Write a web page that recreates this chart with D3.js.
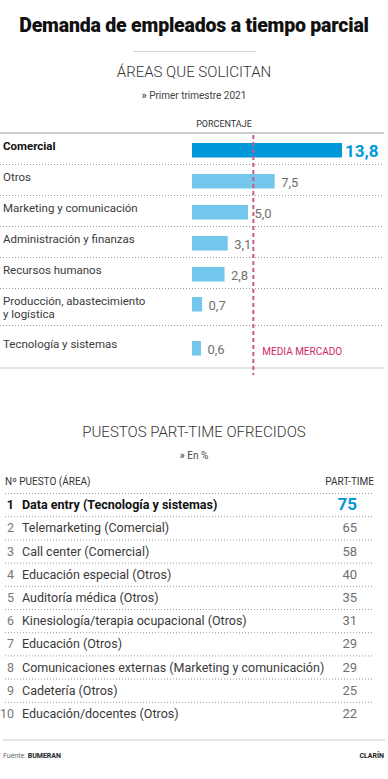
<!DOCTYPE html>
<html>
<head>
    <meta charset="utf-8">
    <title>Demanda de empleados a tiempo parcial</title>
    <script src="https://cdnjs.cloudflare.com/ajax/libs/d3/7.8.5/d3.min.js"></script>
    <style>
        body {
            margin: 0;
            background-color: #fff;
            font-family: Roboto, "Noto Sans", Arial, sans-serif;
        }
        #chart {
            width: 388px;
            height: 779px;
        }
    </style>
</head>
<body>
    <div id="chart"></div>

    <script>
        // Areas que solicitan (porcentaje)
        const areas = ['Comercial', 'Otros', 'Marketing y comunicación', 'Administración y finanzas',
            'Recursos humanos', 'Producción, abastecimiento|y logística', 'Tecnología y sistemas'];
        const areaValues = [13.8, 7.5, 5.0, 3.1, 2.8, 0.7, 0.6];
        const mediaMercado = 5.5;

        // Puestos part-time ofrecidos (en %)
        const puestos = ['Data entry (Tecnología y sistemas)', 'Telemarketing (Comercial)',
            'Call center (Comercial)', 'Educación especial (Otros)', 'Auditoría médica (Otros)',
            'Kinesiología/terapia ocupacional (Otros)', 'Educación (Otros)',
            'Comunicaciones externas (Marketing y comunicación)', 'Cadetería (Otros)',
            'Educación/docentes (Otros)'];
        const partTime = [75, 65, 58, 40, 35, 31, 29, 29, 25, 22];

        const fmt = v => d3.format('.1f')(v).replace('.', ',');

        const W = 388, H = 779;
        const blue = '#0098d9', lightBlue = '#73c6ec', media = '#d3276a';
        const textCol = '#3a3a3a', valCol = '#707070', rule = '#c9c9c9';

        const svg = d3.select('#chart')
            .append('svg')
            .attr('width', W)
            .attr('height', H);

        // Title
        svg.append('text')
            .attr('x', W / 2).attr('y', 32)
            .attr('text-anchor', 'middle')
            .style('font-size', '19.5px').style('font-weight', 900)
            .style('letter-spacing', '-0.2px')
            .attr('fill', '#111')
            .text('Demanda de empleados a tiempo parcial');

        svg.append('line')
            .attr('x1', 133).attr('x2', 256).attr('y1', 51.5).attr('y2', 51.5)
            .attr('stroke', '#d6d6d6').attr('stroke-width', 1);

        function sectionHead(y, title, sub) {
            svg.append('text')
                .attr('x', W / 2).attr('y', y)
                .attr('text-anchor', 'middle')
                .style('font-size', '15px').style('font-weight', 300)
                .attr('fill', '#333')
                .text(title);
            const s = svg.append('text')
                .attr('x', W / 2).attr('y', y + 22)
                .attr('text-anchor', 'middle')
                .style('font-size', '10px')
                .attr('fill', '#444');
            s.append('tspan').style('font-weight', 'bold').text('» ');
            s.append('tspan').text(sub);
        }

        // ---- Section 1: bars ----
        sectionHead(77, 'ÁREAS QUE SOLICITAN', 'Primer trimestre 2021');

        const barX0 = 192;
        const x = d3.scaleLinear()
            .domain([0, d3.max(areaValues)])
            .range([194.6, 342]);

        svg.append('text')
            .attr('x', 224).attr('y', 127)
            .attr('text-anchor', 'middle')
            .style('font-size', '9px')
            .attr('fill', '#333')
            .text('PORCENTAJE');

        const topY = 133;
        svg.append('line')
            .attr('x1', 0).attr('x2', 384).attr('y1', topY).attr('y2', topY)
            .attr('stroke', '#999').attr('stroke-width', 1.2);

        // row layout from number of label lines
        let yCur = topY;
        const rows = areas.map((a, i) => {
            const lines = a.split('|');
            const last = i === areas.length - 1;
            const h = last ? 43 : 31 + (lines.length - 1) * 6;
            const r = { name: a, lines, value: areaValues[i], y: yCur, h, shift: last ? 6 : 0 };
            yCur += h;
            return r;
        });
        const bottomY = yCur;

        const g = svg.append('g');
        rows.forEach((r, i) => {
            if (i > 0) {
                g.append('line')
                    .attr('x1', 0).attr('x2', 384).attr('y1', r.y + 0.5).attr('y2', r.y + 0.5)
                    .attr('stroke', '#9a9a9a').attr('stroke-width', 1)
                    .attr('stroke-dasharray', '1,2');
            }
            const t = g.append('text')
                .attr('x', 3).attr('y', r.y + 17 + r.shift)
                .style('font-size', '11.5px')
                .style('font-weight', i === 0 ? 'bold' : 'normal')
                .attr('fill', i === 0 ? '#111' : textCol);
            r.lines.forEach((l, k) => t.append('tspan').attr('x', 3).attr('dy', k ? 13 : 0).text(l));

            const by = r.y + 10 + r.shift + (r.lines.length > 1 ? -1 : 0);
            g.append('rect')
                .attr('x', barX0).attr('y', by)
                .attr('width', x(r.value) - barX0).attr('height', 14.5)
                .attr('fill', i === 0 ? blue : lightBlue);
            g.append('text')
                .attr('x', x(r.value) + (i === 0 ? 3 : 6.5))
                .attr('y', by + (i === 0 ? 13.5 : 12.5))
                .style('font-size', i === 0 ? '17px' : '13px')
                .style('font-weight', i === 0 ? 'bold' : 'normal')
                .attr('fill', i === 0 ? blue : valCol)
                .text(fmt(r.value));
        });

        svg.append('line')
            .attr('x1', 0).attr('x2', 384).attr('y1', bottomY).attr('y2', bottomY)
            .attr('stroke', rule).attr('stroke-width', 1.2);

        // market average
        svg.append('line')
            .attr('x1', x(mediaMercado)).attr('x2', x(mediaMercado))
            .attr('y1', topY + 2).attr('y2', bottomY + 7)
            .attr('stroke', '#cc5a86').attr('stroke-width', 2)
            .attr('stroke-dasharray', '4,3');
        svg.append('text')
            .attr('x', x(mediaMercado) + 9).attr('y', rows[rows.length - 1].y + 30)
            .style('font-size', '10px')
            .attr('fill', media)
            .text('MEDIA MERCADO');

        // ---- Section 2: table ----
        sectionHead(437, 'PUESTOS PART-TIME OFRECIDOS', 'En %');

        const headY = 485;
        svg.append('text')
            .attr('x', 5).attr('y', headY)
            .style('font-size', '10px').attr('fill', '#333')
            .text('Nº PUESTO (ÁREA)');
        svg.append('text')
            .attr('x', 374).attr('y', headY)
            .attr('text-anchor', 'end')
            .style('font-size', '10px').attr('fill', '#333')
            .text('PART-TIME');

        const yRow = d3.scaleBand()
            .domain(d3.range(puestos.length))
            .range([493, 493 + 23.2 * puestos.length]);

        const tg = svg.append('g');
        puestos.forEach((p, i) => {
            const y0 = yRow(i);
            tg.append('line')
                .attr('x1', 5).attr('x2', 374).attr('y1', y0 + 0.5).attr('y2', y0 + 0.5)
                .attr('stroke', '#9a9a9a').attr('stroke-width', 1)
                .attr('stroke-dasharray', '1,2');
            const cy = y0 + yRow.bandwidth() / 2 + 4.5;
            const bold = i === 0;
            tg.append('text')
                .attr('x', 14).attr('y', cy)
                .attr('text-anchor', 'end')
                .style('font-size', '12.5px')
                .style('font-weight', bold ? 'bold' : 'normal')
                .attr('fill', bold ? '#111' : '#777')
                .text(i + 1);
            tg.append('text')
                .attr('x', 22).attr('y', cy)
                .style('font-size', '12.5px')
                .style('font-weight', bold ? 'bold' : 'normal')
                .attr('fill', bold ? '#111' : textCol)
                .text(p);
            tg.append('text')
                .attr('x', 357).attr('y', cy + (bold ? 1 : 0))
                .attr('text-anchor', 'end')
                .style('font-size', bold ? '17px' : '13px')
                .style('font-weight', bold ? 'bold' : 'normal')
                .attr('fill', bold ? blue : valCol)
                .text(partTime[i]);
        });

        // footer
        svg.append('line')
            .attr('x1', 3).attr('x2', 385).attr('y1', 740).attr('y2', 740)
            .attr('stroke', '#e6e6e6').attr('stroke-width', 2);
        const src = svg.append('text')
            .attr('x', 3).attr('y', 758)
            .style('font-size', '7px').attr('fill', '#666');
        src.append('tspan').text('Fuente: ');
        src.append('tspan').style('font-weight', 'bold').attr('fill', '#222').text('BUMERAN');
        svg.append('text')
            .attr('x', 384).attr('y', 758)
            .attr('text-anchor', 'end')
            .style('font-size', '7px').style('font-weight', 'bold').attr('fill', '#222')
            .text('CLARÍN');
    </script>
</body>
</html>
